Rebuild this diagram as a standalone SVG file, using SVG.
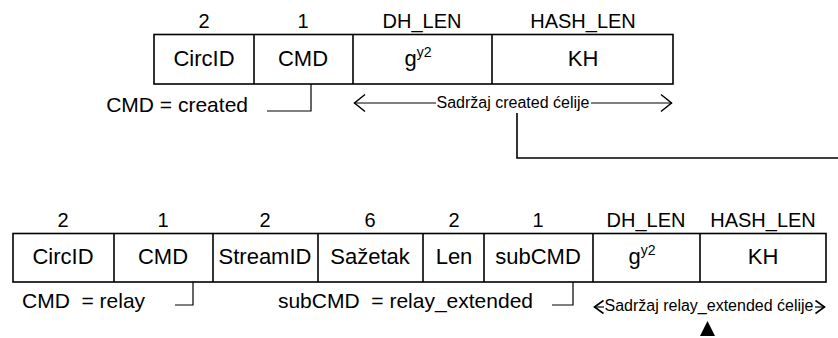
<svg xmlns="http://www.w3.org/2000/svg" width="838" height="338" viewBox="0 0 838 338">
  <defs>
    <style>
      text { font-family: "Liberation Sans", Arial, sans-serif; fill: #000; }
      .lbl { font-size: 20px; text-anchor: middle; }
      .fld { font-size: 22px; text-anchor: middle; }
      .sup { font-size: 14px; }
      .note { font-size: 21px; }
      .span { font-size: 16px; text-anchor: middle; }
      .box { fill: #fff; stroke: #000; stroke-width: 1.6; }
      .div { stroke: #000; stroke-width: 1.6; }
      .ln { fill: none; stroke: #000; stroke-width: 1.2; }
      .conn { fill: none; stroke: #000; stroke-width: 1.6; }
    </style>
    <marker id="chev" viewBox="0 0 14 20" refX="13" refY="10" markerWidth="14" markerHeight="20" markerUnits="userSpaceOnUse" orient="auto-start-reverse">
      <path d="M2,1.5 L12.5,10 L2,18.5" fill="none" stroke="#000" stroke-width="1.5"/>
    </marker>
    <marker id="chev-s" viewBox="0 0 12 16" refX="11" refY="8" markerWidth="12" markerHeight="16" markerUnits="userSpaceOnUse" orient="auto-start-reverse">
      <path d="M1.5,1.5 L10.5,8 L1.5,14.5" fill="none" stroke="#000" stroke-width="1.6"/>
    </marker>
  </defs>

  <!-- created cell -->
  <g id="created-cell">
    <text class="lbl" x="204" y="28">2</text>
    <text class="lbl" x="303" y="28">1</text>
    <text class="lbl" x="422" y="28">DH_LEN</text>
    <text class="lbl" x="583" y="28">HASH_LEN</text>
    <rect class="box" x="154" y="34.5" width="519" height="49.5"/>
    <line class="div" x1="254" y1="34.5" x2="254" y2="84"/>
    <line class="div" x1="353" y1="34.5" x2="353" y2="84"/>
    <line class="div" x1="492" y1="34.5" x2="492" y2="84"/>
    <text class="fld" x="204" y="66">CircID</text>
    <text class="fld" x="303" y="66">CMD</text>
    <text class="fld" x="418" y="66">g<tspan class="sup" dy="-9">y2</tspan></text>
    <text class="fld" x="583" y="66">KH</text>
  </g>

  <g id="created-cmd-note">
    <text class="note" x="248" y="112" text-anchor="end">CMD = created</text>
    <path class="ln" d="M267,111 H311 V84"/>
  </g>

  <g id="created-span">
    <line class="ln" x1="354" y1="103" x2="436" y2="103" marker-start="url(#chev)"/>
    <line class="ln" x1="591" y1="103" x2="672" y2="103" marker-end="url(#chev)"/>
    <text class="span" x="513" y="108">Sadržaj created ćelije</text>
  </g>

  <!-- relay_extended cell -->
  <g id="relay-cell">
    <text class="lbl" x="63" y="227">2</text>
    <text class="lbl" x="163" y="227">1</text>
    <text class="lbl" x="265" y="227">2</text>
    <text class="lbl" x="370" y="227">6</text>
    <text class="lbl" x="454" y="227">2</text>
    <text class="lbl" x="538" y="227">1</text>
    <text class="lbl" x="646" y="227">DH_LEN</text>
    <text class="lbl" x="763" y="227">HASH_LEN</text>
    <rect class="box" x="13" y="233.5" width="813" height="48.5"/>
    <line class="div" x1="114" y1="233.5" x2="114" y2="282"/>
    <line class="div" x1="213" y1="233.5" x2="213" y2="282"/>
    <line class="div" x1="318" y1="233.5" x2="318" y2="282"/>
    <line class="div" x1="423" y1="233.5" x2="423" y2="282"/>
    <line class="div" x1="484" y1="233.5" x2="484" y2="282"/>
    <line class="div" x1="593" y1="233.5" x2="593" y2="282"/>
    <line class="div" x1="700" y1="233.5" x2="700" y2="282"/>
    <text class="fld" x="63" y="264">CircID</text>
    <text class="fld" x="163" y="264">CMD</text>
    <text class="fld" x="265" y="264">StreamID</text>
    <text class="fld" x="370" y="264">Sažetak</text>
    <text class="fld" x="454" y="264">Len</text>
    <text class="fld" x="538" y="264">subCMD</text>
    <text class="fld" x="642" y="264">g<tspan class="sup" dy="-9">y2</tspan></text>
    <text class="fld" x="763" y="264">KH</text>
  </g>

  <g id="relay-cmd-note">
    <text class="note" x="22" y="308" xml:space="preserve">CMD  = relay</text>
    <path class="ln" d="M175,305 H193 V282"/>
  </g>

  <g id="relay-subcmd-note">
    <text class="note" x="533" y="308" text-anchor="end" xml:space="preserve">subCMD  = relay_extended</text>
    <path class="ln" d="M552,305 H573 V282"/>
  </g>

  <g id="relay-span">
    <line class="ln" x1="594" y1="307" x2="604" y2="307" marker-start="url(#chev-s)"/>
    <line class="ln" x1="815" y1="307" x2="825" y2="307" marker-end="url(#chev-s)"/>
    <text class="span" x="709" y="311">Sadržaj relay_extended ćelije</text>
  </g>

  <!-- link from the created payload into the relay_extended payload -->
  <g id="connectors">
    <path class="conn" d="M517,113 V158 H838"/>
    <polygon points="707.5,321 700,336 715,336" fill="#000"/>
  </g>
</svg>
